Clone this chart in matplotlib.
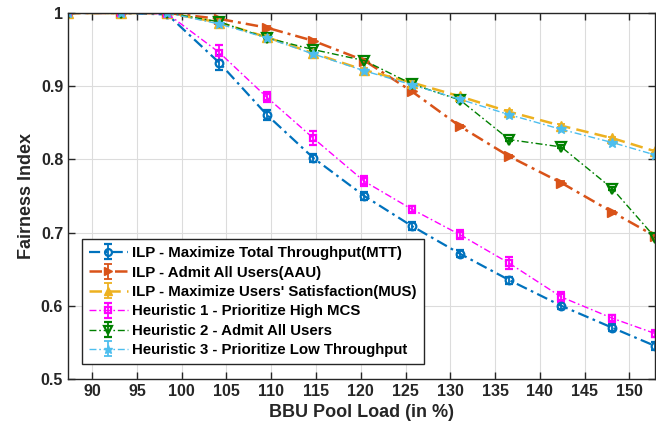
import matplotlib
matplotlib.use("Agg")
import matplotlib.pyplot as plt

plt.rcParams['font.family'] = ['Liberation Sans', 'DejaVu Sans']
plt.rcParams['font.weight'] = 'bold'

load = [87.3, 93.2, 98.4, 104.2, 109.5, 114.7, 120.4, 125.7, 131.1, 136.6, 142.4, 148.1, 152.9]

mtt = [1.0, 1.0, 0.998, 0.932, 0.861, 0.802, 0.750, 0.709, 0.671, 0.635, 0.600, 0.570, 0.545]
mtt_err = [0.001, 0.001, 0.002, 0.010, 0.007, 0.006, 0.006, 0.006, 0.005, 0.005, 0.005, 0.005, 0.005]

aau = [1.0, 1.0, 1.0, 0.992, 0.980, 0.962, 0.935, 0.893, 0.845, 0.804, 0.768, 0.728, 0.695]
aau_err = [0.0, 0.0, 0.0, 0.002, 0.002, 0.002, 0.002, 0.002, 0.002, 0.002, 0.002, 0.002, 0.002]

mus = [1.0, 1.0, 1.0, 0.987, 0.967, 0.945, 0.922, 0.905, 0.886, 0.865, 0.846, 0.829, 0.811]
mus_err = [0.0, 0.0, 0.0, 0.003, 0.003, 0.003, 0.003, 0.002, 0.002, 0.002, 0.002, 0.002, 0.002]

h1 = [1.0, 1.0, 0.999, 0.946, 0.885, 0.829, 0.770, 0.732, 0.697, 0.658, 0.612, 0.583, 0.562]
h1_err = [0.001, 0.001, 0.002, 0.010, 0.007, 0.010, 0.007, 0.005, 0.006, 0.008, 0.007, 0.005, 0.005]

h2 = [1.0, 1.0, 1.0, 0.988, 0.966, 0.950, 0.935, 0.903, 0.881, 0.827, 0.817, 0.760, 0.693]
h2_err = [0.0, 0.0, 0.0, 0.002, 0.002, 0.002, 0.002, 0.002, 0.002, 0.002, 0.002, 0.002, 0.002]

h3 = [1.0, 1.0, 1.0, 0.985, 0.966, 0.944, 0.921, 0.902, 0.882, 0.861, 0.841, 0.823, 0.806]
h3_err = [0.0, 0.0, 0.0, 0.003, 0.003, 0.003, 0.003, 0.002, 0.002, 0.002, 0.002, 0.002, 0.002]

labels = ["ILP - Maximize Total Throughput(MTT)",
          "ILP - Admit All Users(AAU)",
          "ILP - Maximize Users' Satisfaction(MUS)",
          "Heuristic 1 - Prioritize High MCS",
          "Heuristic 2 - Admit All Users",
          "Heuristic 3 - Prioritize Low Throughput"]

xticks = [90, 95, 100, 105, 110, 115, 120, 125, 130, 135, 140, 145, 150]
yticks = [0.5, 0.6, 0.7, 0.8, 0.9, 1.0]
yticklabels = ["0.5", "0.6", "0.7", "0.8", "0.9", "1"]

fig = plt.figure(figsize=(6.56, 4.32), dpi=100)
ax = fig.add_axes([68/656, 53/432, 1 - 68/656 - 0.001, (379-13)/432])

dashdot = (0, (5, 2, 1.2, 2))
dashed = (0, (5, 2.5))
series = [
    (mtt, mtt_err, '#0072BD', 'o', dashdot, 1.6, 5.5, 'none'),
    (aau, aau_err, '#D95319', '>', dashdot, 1.8, 7, None),
    (mus, mus_err, '#EDB120', '^', dashed, 1.8, 6.5, None),
    (h1, h1_err, '#FF00FF', 's', dashdot, 1.0, 5, 'none'),
    (h2, h2_err, '#008000', 'v', dashdot, 1.0, 6.5, 'none'),
    (h3, h3_err, '#4DBEEE', '*', dashdot, 1.0, 7, None),
]

for (vals, err, col, mk, ls, lw, ms, mfc), lab in zip(series, labels):
    kw = dict(color=col, marker=mk, linestyle=ls, linewidth=lw, markersize=ms,
              elinewidth=1.3, capsize=3, capthick=1.3, label=lab, clip_on=True)
    if mfc == 'none':
        kw['markerfacecolor'] = 'none'
        kw['markeredgewidth'] = 1.6
    ax.errorbar(load, vals, yerr=err, **kw)

ax.set_xlim(87.3, 152.9)
ax.set_ylim(0.5, 1.0)
ax.set_xticks(xticks)
ax.set_yticks(yticks)
ax.set_yticklabels(yticklabels)
ax.grid(True, color='#dcdcdc', linewidth=0.8)
ax.set_axisbelow(True)
ax.tick_params(direction='in', top=True, right=True, length=5, width=1, colors='#262626',
               labelsize=11.5, labelcolor='#262626')
for s in ax.spines.values():
    s.set_color('#262626')
    s.set_linewidth(1)
ax.set_xlabel("BBU Pool Load (in %)", fontsize=13, fontweight='bold', color='#262626')
ax.set_ylabel("Fairness Index", fontsize=13, fontweight='bold', color='#262626')
for t in ax.get_xticklabels() + ax.get_yticklabels():
    t.set_fontweight('bold')

leg = ax.legend(loc='lower left', bbox_to_anchor=(0.024, 0.041), borderaxespad=0,
                prop={'weight': 'bold', 'size': 10.8},
                fancybox=False, edgecolor='#262626', framealpha=1, handlelength=2.6,
                labelspacing=0.36, borderpad=0.45, handletextpad=0.3, markerscale=0.9)
leg.get_frame().set_linewidth(1)

fig.savefig("out.png", dpi=100)
